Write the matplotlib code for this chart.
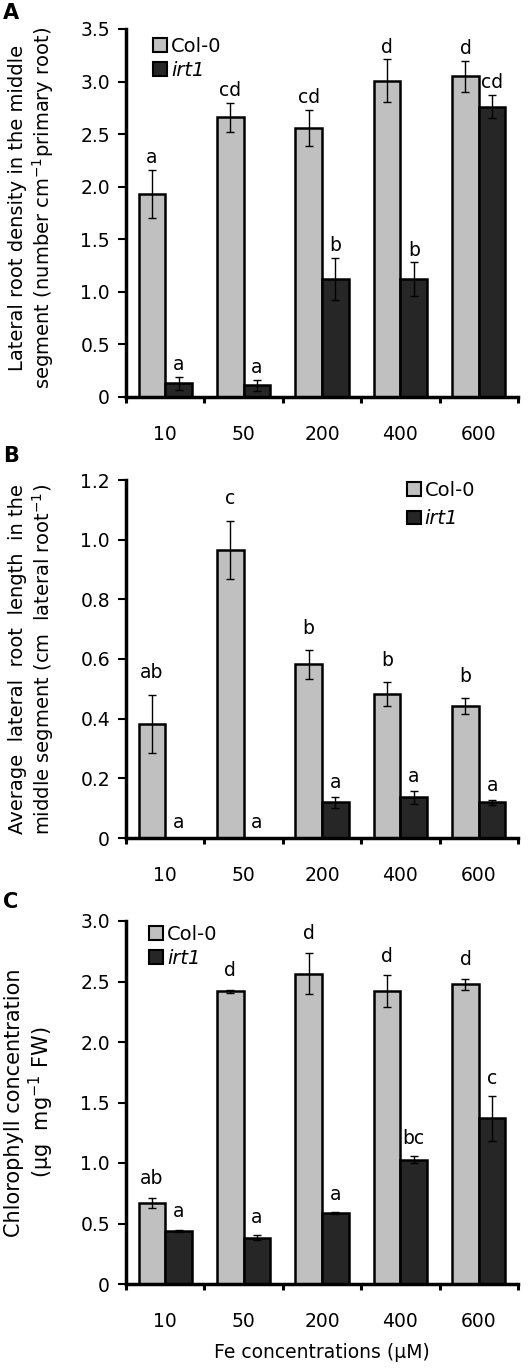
import matplotlib
matplotlib.use("Agg")
import matplotlib.pyplot as plt
import numpy as np
from matplotlib.patches import Patch

plt.rcParams['font.family'] = ['DejaVu Sans']
plt.rcParams['mathtext.fontset'] = 'dejavusans'

categories = ['10', '50', '200', '400', '600']
series_names = ['Col-0', 'irt1']

# Panel A: lateral root density
a_col = [1.93, 2.66, 2.56, 3.01, 3.05]
a_col_err = [0.23, 0.14, 0.17, 0.20, 0.15]
a_irt = [0.13, 0.11, 1.12, 1.12, 2.76]
a_irt_err = [0.06, 0.05, 0.20, 0.16, 0.11]
a_col_let = ['a', 'cd', 'cd', 'd', 'd']
a_irt_let = ['a', 'a', 'b', 'b', 'cd']

# Panel B: average lateral root length
b_col = [0.383, 0.965, 0.582, 0.482, 0.442]
b_col_err = [0.098, 0.098, 0.048, 0.040, 0.026]
b_irt = [0.0, 0.0, 0.119, 0.136, 0.119]
b_irt_err = [0.0, 0.0, 0.018, 0.021, 0.007]
b_col_let = ['ab', 'c', 'b', 'b', 'b']
b_irt_let = ['a', 'a', 'a', 'a', 'a']

# Panel C: chlorophyll concentration
c_col = [0.67, 2.42, 2.565, 2.42, 2.477]
c_col_err = [0.04, 0.013, 0.17, 0.13, 0.045]
c_irt = [0.438, 0.383, 0.587, 1.028, 1.369]
c_irt_err = [0.012, 0.02, 0.005, 0.03, 0.185]
c_col_let = ['ab', 'd', 'd', 'd', 'd']
c_irt_let = ['a', 'a', 'a', 'bc', 'c']

GRAY = '#C0C0C0'
DARK = '#262626'
W, H = 531, 1372
FS = 13.5

fig = plt.figure(figsize=(W / 100, H / 100), dpi=100)


def rect(l, t, r, b):
    return [l / W, 1 - b / H, (r - l) / W, (b - t) / H]


def panel(r, col, col_err, irt, irt_err, col_let, irt_let, ymax, ystep,
          ylabel, ylabel_fs, ylabel_xy, letter, letter_top, leg_loc, leg_anchor,
          leg_spacing, col_off, irt_off):
    ax = fig.add_axes(rect(*r))
    x = np.arange(len(categories))
    w = 0.34
    ax.bar(x - w / 2, col, w, color=GRAY, edgecolor='black', linewidth=1.8, zorder=2)
    ax.bar(x + w / 2, irt, w, color=DARK, edgecolor='black', linewidth=1.8, zorder=2)
    for xi, v, e in zip(x - w / 2, col, col_err):
        if e > 0:
            ax.errorbar(xi, v, yerr=e, color='black', lw=1, capsize=2.6, capthick=1, zorder=3)
    for xi, v, e in zip(x + w / 2, irt, irt_err):
        if e > 0:
            ax.errorbar(xi, v, yerr=e, color='black', lw=1, capsize=2.6, capthick=1, zorder=3)
    for xi, v, e, t in zip(x - w / 2, col, col_err, col_let):
        ax.annotate(t, (xi, v + e), xytext=(0, col_off), textcoords='offset points',
                    ha='center', va='bottom', fontsize=FS)
    for xi, v, e, t in zip(x + w / 2, irt, irt_err, irt_let):
        ax.annotate(t, (xi, v + e), xytext=(0, irt_off), textcoords='offset points',
                    ha='center', va='bottom', fontsize=FS)
    ax.set_xlim(-0.5, len(categories) - 0.5)
    ax.set_ylim(0, ymax)
    yt = np.arange(0, ymax + 1e-9, ystep)
    ax.set_yticks(yt)
    ax.set_yticklabels(['0'] + ['%.1f' % v for v in yt[1:]], fontsize=FS)
    ax.set_xticks(np.arange(-0.5, len(categories)), labels=[''] * (len(categories) + 1))
    ax.set_xticks(x, labels=categories, minor=True, fontsize=FS)
    ax.tick_params(axis='x', which='major', direction='out', length=4, width=2.2)
    ax.tick_params(axis='x', which='minor', length=0, pad=20)
    ax.tick_params(axis='y', direction='out', length=5.5, width=1.5, pad=6)
    for s in ['top', 'right']:
        ax.spines[s].set_visible(False)
    for s in ['left', 'bottom']:
        ax.spines[s].set_linewidth(2.5)
    ax.set_ylabel(ylabel, fontsize=ylabel_fs, linespacing=1.15)
    ax.yaxis.set_label_coords(*ylabel_xy)
    handles = [Patch(facecolor=GRAY, edgecolor='black', linewidth=1.5),
               Patch(facecolor=DARK, edgecolor='black', linewidth=1.5)]
    leg = ax.legend(handles, series_names, loc=leg_loc, bbox_to_anchor=leg_anchor,
                    frameon=False, fontsize=14, handlelength=0.72, handleheight=0.72,
                    handletextpad=0.2, labelspacing=leg_spacing, borderaxespad=0)
    leg.get_texts()[1].set_fontstyle('italic')
    fig.text(3 / W, 1 - letter_top / H, letter, fontsize=15, fontweight='bold',
             ha='left', va='top')
    return ax


panel((126, 29, 518, 397), a_col, a_col_err, a_irt, a_irt_err, a_col_let, a_irt_let,
      3.5, 0.5,
      'Lateral root density in the middle\nsegment (number cm$^{-1}$primary root)',
      14, (-0.178, 0.515), 'A', 3, 'upper left', (0.05, 1.0), 0.25, 2, 2)

panel((126, 480, 518, 838), b_col, b_col_err, b_irt, b_irt_err, b_col_let, b_irt_let,
      1.2, 0.2,
      'Average  lateral  root  length  in the\nmiddle segment (cm  lateral root$^{-1}$)',
      14, (-0.178, 0.5), 'B', 446, 'upper right', (0.91, 1.02), 0.5, 9, 4)

axc = panel((126, 921, 518, 1284), c_col, c_col_err, c_irt, c_irt_err, c_col_let, c_irt_let,
            3.0, 0.5,
            'Chlorophyll concentration\n(µg  mg$^{-1}$ FW)',
            15, (-0.178, 0.5), 'C', 892, 'upper left', (0.04, 1.01), 0.25, 7, 6)
axc.set_xlabel('Fe concentrations (µM)', fontsize=FS)
axc.xaxis.set_label_coords(0.5, -0.163)

fig.savefig('out.png', dpi=100)
